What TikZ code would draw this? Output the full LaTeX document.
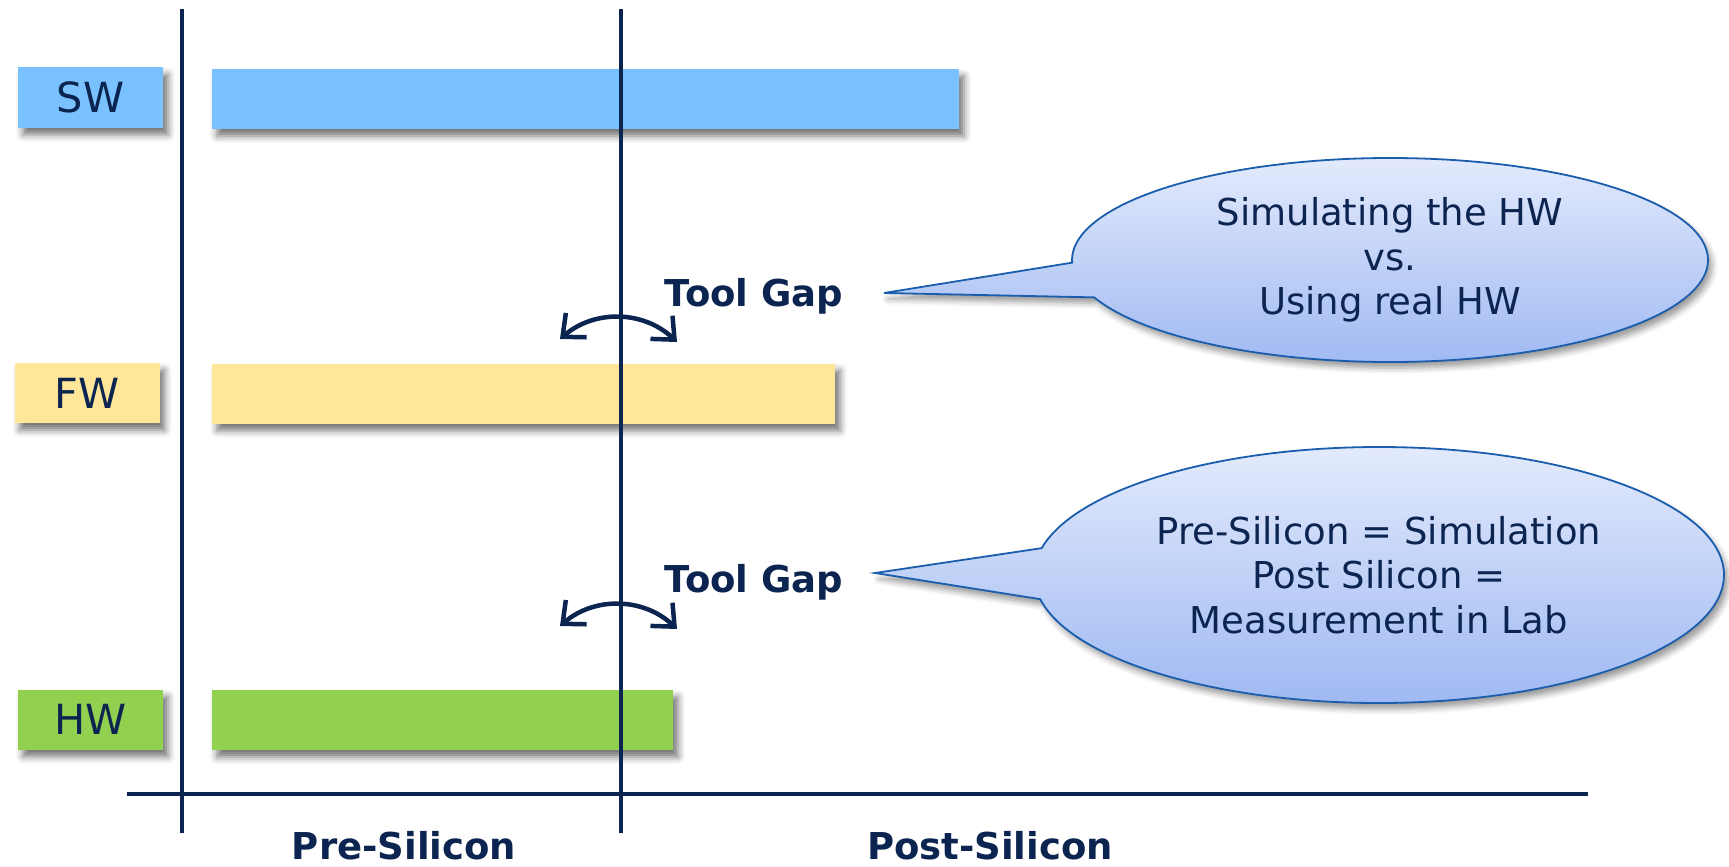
\documentclass[tikz,border=0pt]{standalone}
\usepackage{fontspec}
\setmainfont{DejaVu Sans}
\usetikzlibrary{shapes.callouts,shadows.blur,arrows.meta}
\definecolor{navy}{HTML}{0B2450}
\definecolor{swblue}{HTML}{7AC1FF}
\definecolor{fwyellow}{HTML}{FFE699}
\definecolor{hwgreen}{HTML}{92D050}
\definecolor{cborder}{HTML}{1A5DAD}
\definecolor{ctop}{HTML}{E3EAFC}
\definecolor{cbot}{HTML}{9CB7F2}
\begin{document}
\begin{tikzpicture}[x=1pt,y=-1pt,
  shad/.style={blur shadow={shadow xshift=5pt, shadow yshift=-7pt, shadow blur radius=7pt, shadow opacity=55}},
  lbl/.style={shad, minimum width=145pt, minimum height=60pt, inner sep=0pt,
    font=\fontsize{41.5}{48}\selectfont, text=navy},
  bar/.style={shad, minimum height=60pt, inner sep=0pt},
  axisline/.style={draw=navy, line width=4pt},
  gaptext/.style={font=\fontsize{37}{44}\bfseries\selectfont, text=navy},
  gaparrow/.style={draw=navy, line width=4.5pt, {Straight Barb[length=18pt,width=32pt]}-{Straight Barb[length=18pt,width=32pt]}},
  bubble/.style={ellipse callout, draw=cborder, line width=1.8pt, top color=ctop, bottom color=cbot,
    inner sep=0pt, align=center, text=navy, font=\fontsize{37}{44.7}\selectfont,
    blur shadow={shadow xshift=4pt, shadow yshift=-6pt, shadow blur radius=6pt, shadow opacity=40}},
  phase/.style={font=\fontsize{37}{44}\bfseries\selectfont, text=navy}]
\useasboundingbox (0,0) rectangle (1729,867);

% bars
\node[bar, fill=swblue, minimum width=747pt] (swbar) at (585.5,99) {};
\node[bar, fill=fwyellow, minimum width=623pt] (fwbar) at (523.5,393.5) {};
\node[bar, fill=hwgreen, minimum width=461pt] (hwbar) at (442.5,720) {};

% labels
\node[lbl, fill=swblue] (sw) at (90.5,97.5) {SW};
\node[lbl, fill=fwyellow] (fw) at (87,393) {FW};
\node[lbl, fill=hwgreen] (hw) at (90.5,719.5) {HW};

% axes
\coordinate (v1t) at (182,9);
\coordinate (v1b) at (182,833);
\coordinate (v2t) at (621,9);
\coordinate (v2b) at (621,833);
\coordinate (hl) at (127,794);
\coordinate (hr) at (1588,794);
\draw[axisline] (v1t) -- (v1b);
\draw[axisline] (v2t) -- (v2b);
\draw[axisline] (hl) -- (hr);

% tool gaps
\node[gaptext] (tg1) at (754,296) {Tool Gap};
\node[gaptext] (tg2) at (754,582) {Tool Gap};
\coordinate (a1) at (560,339);
\coordinate (b1) at (677,342);
\coordinate (a2) at (560,626);
\coordinate (b2) at (677,629);
\draw[gaparrow] (a1) to[bend left=42] (b1);
\draw[gaparrow] (a2) to[bend left=42] (b2);

% callouts
\coordinate (p1) at (884,293);
\coordinate (p2) at (875,573);
\node[bubble, minimum width=636pt, minimum height=204pt, callout pointer arc=20,
  callout absolute pointer={(p1)}] (c1) at (1390,260)
  {Simulating the HW\\vs.\\Using real HW};
\node[bubble, minimum width=690pt, minimum height=256pt, callout pointer arc=23,
  callout absolute pointer={(p2)}] (c2) at (1379,575)
  {Pre-Silicon = Simulation\\Post Silicon =\\Measurement in Lab};

% phases
\node[phase] (pre) at (404,846) {Pre-Silicon};
\node[phase] (post) at (990,846) {Post-Silicon};
\end{tikzpicture}
\end{document}
